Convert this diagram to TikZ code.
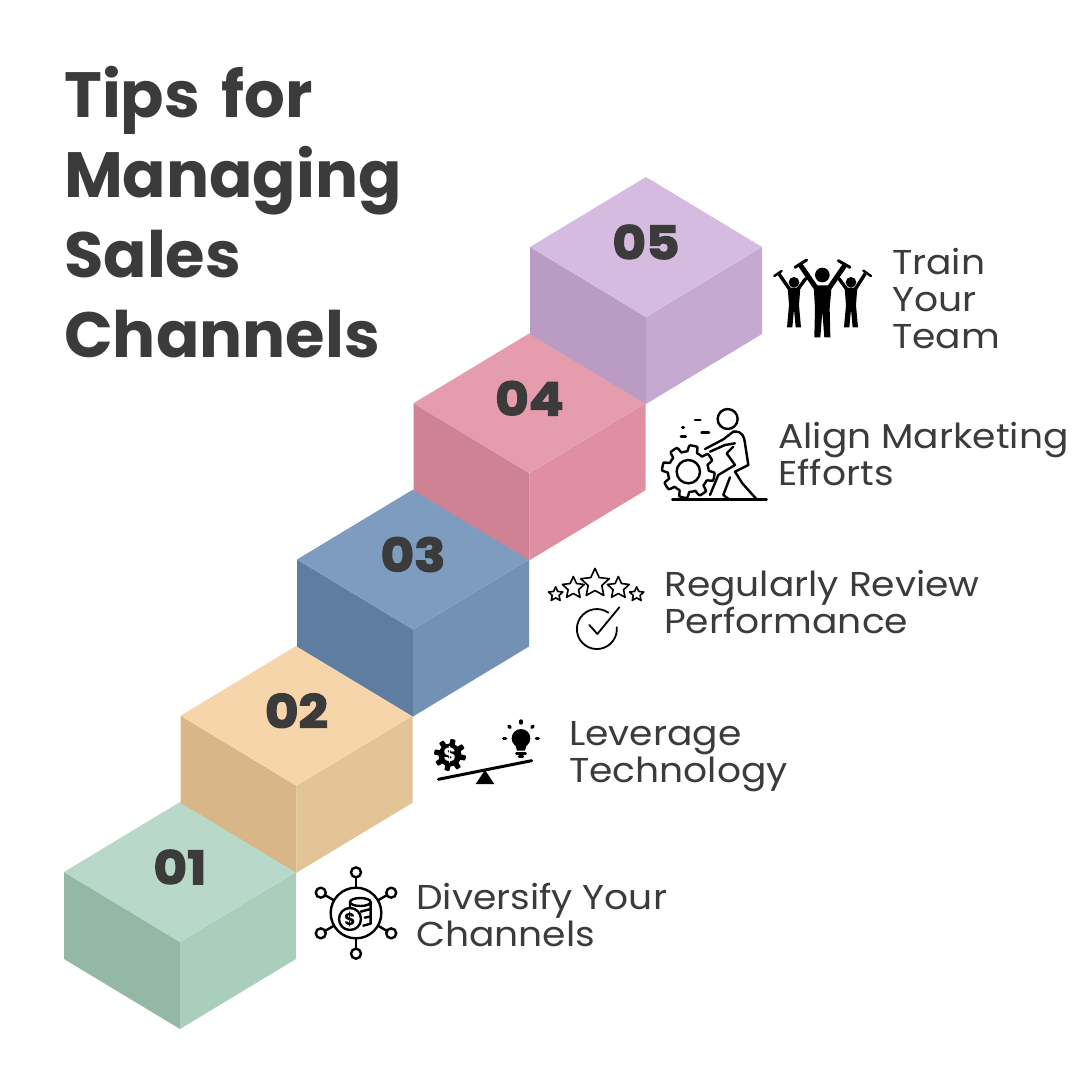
\documentclass[tikz,border=0pt]{standalone}
\usepackage{fontspec}
\setmainfont{Poppins}
\newfontfamily\tipfont[FakeStretch=1.09]{Poppins}
\newfontfamily\numfont[FakeBold=3,FakeStretch=1.12]{Poppins}
\usetikzlibrary{shapes.geometric}
\definecolor{ink}{HTML}{3B3B3B}
\definecolor{topA}{HTML}{B8D9C9}\definecolor{leftA}{HTML}{93B8A6}\definecolor{rightA}{HTML}{A9CFBC}
\definecolor{topB}{HTML}{F5D5A9}\definecolor{leftB}{HTML}{D8B687}\definecolor{rightB}{HTML}{E3C496}
\definecolor{topC}{HTML}{7E9CBF}\definecolor{leftC}{HTML}{5F7DA1}\definecolor{rightC}{HTML}{7291B5}
\definecolor{topD}{HTML}{E59CAD}\definecolor{leftD}{HTML}{CE8293}\definecolor{rightD}{HTML}{E08FA3}
\definecolor{topE}{HTML}{D6BBE0}\definecolor{leftE}{HTML}{BA9BC4}\definecolor{rightE}{HTML}{C6A9D1}
\newcommand{\gearplot}[3]{plot[domain=0:360,samples=181,variable=\t] (\t:{#1+#2*max(-1,min(1,3*sin(#3*\t)))}) -- cycle}
\begin{document}
\begin{tikzpicture}[x=1pt,y=-1pt,
	tip/.style={text=ink,anchor=west,align=left,inner sep=0pt,font=\tipfont\fontsize{34.5}{37}\selectfont},
	number/.style={text=ink,font=\numfont\bfseries\fontsize{46}{46}\selectfont},
	heading/.style={text=ink,anchor=north west,align=left,inner sep=0pt,font=\bfseries\fontsize{64}{80}\selectfont},
	icon/.style={line width=2.4pt,line cap=round,line join=round},
	rate/.style={star,star points=5,star point ratio=2.1,draw,line width=1.6pt,inner sep=0pt}]
	\useasboundingbox (0,0) rectangle (1080,1080);
	\node[heading] (title) at (64,66) {Tips \hspace{8pt}for\\Managing\\Sales\\Channels};
	% the five blocks
	\foreach \i/\c/\n in {0/A/01,1/B/02,2/C/03,3/D/04,4/E/05}{
		\begin{scope}[shift={({116.5*\i},{-156.25*\i})}]
			\fill[left\c] (64,872) -- (180,942) -- (180,1029) -- (64,959) -- cycle;
			\fill[right\c] (296,872) -- (180,942) -- (180,1029) -- (296,959) -- cycle;
			\fill[top\c] (64,872) -- (180,802) -- (296,872) -- (180,942) -- cycle;
			\node[number] (num\n) at (180,867) {\n};
		\end{scope}
	}
	\node[tip] (tipA) at (416,915) {Diversify Your\\Channels};
	\node[tip] (tipB) at (569,757) {Leverage\\Technology};
	\node[tip] (tipC) at (664,602) {Regularly Review\\Performance};
	\node[tip] (tipD) at (778,454) {Align Marketing\\Efforts};
	\node[tip] (tipE) at (892,299) {Train\\Your\\Team};
	% coins
	\begin{scope}[shift={(356,913)},x=.3333pt,y=-.3333pt,icon]
		\draw (0,0) circle[radius=76];
		\foreach \a in {30,90,150,210,270,330}{
			\draw (\a:78) -- (\a:108);
			\draw (\a:122) circle[radius=15];
		}
		\draw (13,-33) ellipse[x radius=31,y radius=12];
		\draw (-18,-33) -- (-18,-15) (44,-33) -- (44,32) -- (22,38);
		\draw (44,-12) -- (14,-4) (44,10) -- (26,14);
		\fill[white] (-18,18) circle[radius=36];
		\draw (-18,18) circle[radius=33];
		\node[font=\bfseries\fontsize{17}{17}\selectfont,inner sep=0pt] (coin) at (-18,18) {\$};
	\end{scope}
	% balance
	\begin{scope}[shift={(425,710)},x=.3333pt,y=-.3333pt,icon]
		\draw[line width=3pt] (40,208) -- (320,152);
		\fill (152,222) -- (208,222) -- (180,180) -- cycle;
		\begin{scope}[shift={(75,135)}]
			\fill \gearplot{41}{7}{8};
			\node[white,font=\bfseries\fontsize{19}{19}\selectfont,inner sep=0pt] (cost) at (0,0) {\$};
		\end{scope}
		\fill (288,85) circle[radius=28];
		\fill (270,100) -- (306,100) -- (300,122) -- (276,122) -- cycle;
		\draw[line width=2.4pt] (274,130) -- (302,130);
		\draw[line width=2.4pt] (282,140) -- (294,140);
		\foreach \a in {0,-45,-90,-135,-180}{
			\draw[shift={(288,85)},line width=3.4pt] (\a:46) -- (\a:52);
		}
	\end{scope}
	% stars and check
	\begin{scope}[shift={(540,560)},x=.3333pt,y=-.3333pt,icon]
		\node[rate,minimum size=30pt] (starC) at (165,70) {};
		\node[rate,minimum size=23pt] (starB) at (100,84) {};
		\node[rate,minimum size=23pt] (starD) at (235,84) {};
		\node[rate,minimum size=15pt] (starA) at (47,103) {};
		\node[rate,minimum size=15pt] (starE) at (290,103) {};
		\draw[line width=1.8pt] (205,158) arc[radius=60,start angle=-55,end angle=-365];
		\draw[line width=1.8pt] (148,195) -- (172,222) -- (238,142);
	\end{scope}
	% person and gear
	\begin{scope}[shift={(655,400)},x=.3333pt,y=-.3333pt,icon]
		\begin{scope}[shift={(100,215)}]
			\draw \gearplot{70}{9}{8};
			\draw (0,0) circle[radius=35];
		\end{scope}
		\draw (218,57) circle[radius=30];
		\draw (52,298) -- (335,298);
		\draw (150,147) -- (205,118) -- (235,95) .. controls (262,92) and (268,110) .. (270,130) -- (280,195) -- (240,215) -- (262,250) -- (305,298);
		\draw (165,155) -- (210,135) -- (240,130) (235,140) -- (215,160) -- (240,195) -- (190,225) -- (165,285);
		\draw (225,232) -- (205,285) -- (222,298);
		\draw[line width=2.8pt] (120,60) -- (136,60) (140,98) -- (162,98) (82,83) -- (86,83) (78,110) -- (92,110);
	\end{scope}
	% team
	\begin{scope}[shift={(765,250)},x=.3333pt,y=-.3333pt,line cap=round,line join=round]
		\fill (172,75) circle[radius=22];
		\fill (87,97) circle[radius=16];
		\fill (258,97) circle[radius=16];
		\draw[line width=5pt] (108,48) -- (152,112) (238,48) -- (194,112);
		\draw[line width=3pt] (90,52) -- (125,30) (220,32) -- (255,52);
		\fill (146,106) -- (200,106) -- (194,175) -- (196,262) -- (178,262) -- (172,185) -- (166,262) -- (148,262) -- (150,175) -- cycle;
		\draw[line width=3.4pt] (42,72) -- (74,118) (122,86) -- (100,116);
		\draw[line width=2.4pt] (28,78) -- (50,63);
		\fill (68,113) -- (106,113) -- (102,165) -- (108,232) -- (92,232) -- (87,178) -- (82,232) -- (66,232) -- (72,165) -- cycle;
		\draw[line width=3.4pt] (300,72) -- (272,116) (222,86) -- (244,116);
		\draw[line width=2.4pt] (295,62) -- (318,78);
		\fill (239,113) -- (277,113) -- (273,165) -- (279,232) -- (263,232) -- (258,178) -- (253,232) -- (237,232) -- (243,165) -- cycle;
	\end{scope}
\end{tikzpicture}
\end{document}
